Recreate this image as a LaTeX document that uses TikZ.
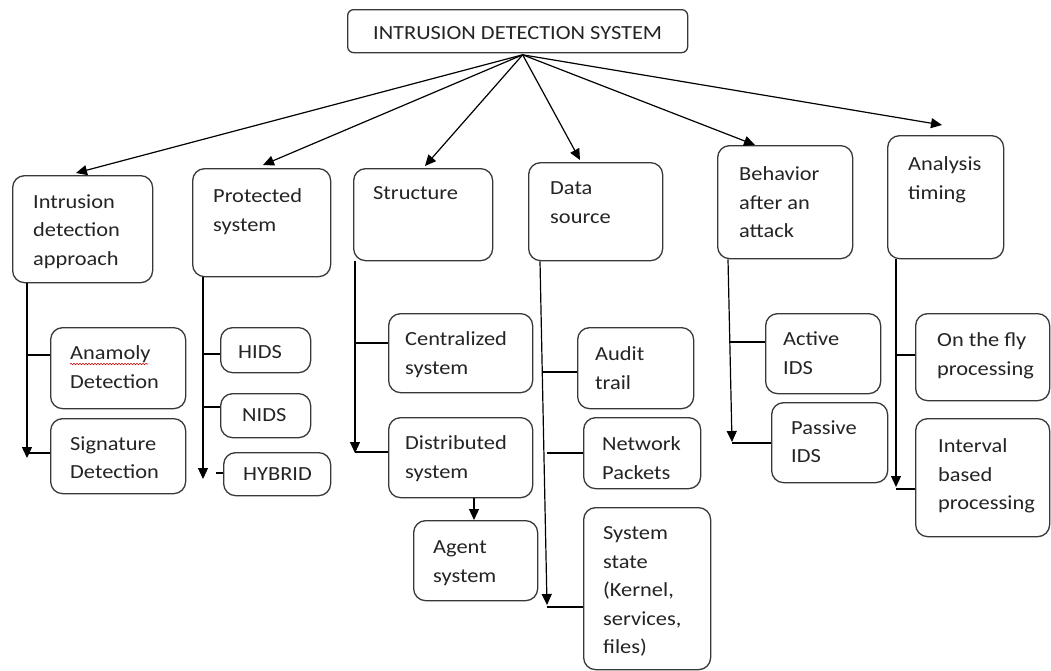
\documentclass[tikz,border=0pt]{standalone}
\usepackage{fontspec}
\setmainfont[FakeStretch=1.12]{Carlito}
\usetikzlibrary{arrows.meta,calc,decorations.pathmorphing}
\definecolor{ink}{gray}{0.14}
\definecolor{edgec}{gray}{0.22}
\begin{document}
\begin{tikzpicture}[x=1pt,y=-1pt,
  box/.style={draw=edgec, line width=1.3pt, rounded corners=12pt, inner sep=0pt, anchor=north west},
  txt/.style={anchor=north west, inner sep=0pt, align=left, text=ink, font=\fontsize{20pt}{28.5pt}\selectfont},
  arr/.style={-{Triangle[length=11pt,width=10pt]}, line width=1.2pt, black},
  ln/.style={line width=1.2pt, black}]
\useasboundingbox (0,0) rectangle (1051,670);
\fill[white] (0,0) rectangle (1051,670);

% root
\node[box, minimum width=340pt, minimum height=43pt, rounded corners=6pt] (ids) at (347,9) {};
\node[txt, anchor=center] (idst) at ($(ids.center)+(0,1.5)$) {INTRUSION DETECTION SYSTEM};

% level 1
\node[box, minimum width=140pt, minimum height=107pt] (ida) at (12,175) {};
\node[txt] (idat) at ($(ida.north west)+(21,19.5)$) {Intrusion\\detection\\approach};
\node[box, minimum width=138pt, minimum height=108pt] (prot) at (192,168) {};
\node[txt] (prott) at ($(prot.north west)+(21,20.5)$) {Protected\\system};
\node[box, minimum width=139pt, minimum height=92pt] (struc) at (353,168) {};
\node[txt] (struct) at ($(struc.north west)+(20,18.5)$) {Structure};
\node[box, minimum width=134pt, minimum height=98pt] (data) at (528,162) {};
\node[txt] (datat) at ($(data.north west)+(22,19.5)$) {Data\\source};
\node[box, minimum width=135pt, minimum height=113pt] (behav) at (717,145) {};
\node[txt] (behavt) at ($(behav.north west)+(22,21.5)$) {Behavior\\after an\\attack};
\node[box, minimum width=116pt, minimum height=123pt] (anal) at (887,135) {};
\node[txt] (analt) at ($(anal.north west)+(21,21.5)$) {Analysis\\timing};

% children
\node[box, minimum width=135pt, minimum height=81pt] (anam) at (50,327) {};
\node[txt] (anamt) at ($(anam.north west)+(20,18.5)$) {Anamoly\\Detection};
\node[box, minimum width=135pt, minimum height=75pt] (sig) at (50,418) {};
\node[txt] (sigt) at ($(sig.north west)+(20,18.5)$) {Signature\\Detection};
\node[box, minimum width=90pt, minimum height=45pt] (hids) at (220,327) {};
\node[txt] (hidst) at ($(hids.north west)+(18,18.5)$) {HIDS};
\node[box, minimum width=90pt, minimum height=44pt] (nids) at (220,393) {};
\node[txt] (nidst) at ($(nids.north west)+(22,15.5)$) {NIDS};
\node[box, minimum width=107pt, minimum height=43pt] (hyb) at (223,452) {};
\node[txt] (hybt) at ($(hyb.north west)+(20,15.5)$) {HYBRID};
\node[box, minimum width=144pt, minimum height=79pt] (cent) at (388,313) {};
\node[txt] (centt) at ($(cent.north west)+(17,18.5)$) {Centralized\\system};
\node[box, minimum width=144pt, minimum height=80pt] (dist) at (388,417) {};
\node[txt] (distt) at ($(dist.north west)+(17,18.5)$) {Distributed\\system};
\node[box, minimum width=124pt, minimum height=80pt] (agent) at (413,520) {};
\node[txt] (agentt) at ($(agent.north west)+(20,20.5)$) {Agent\\system};
\node[box, minimum width=116pt, minimum height=81pt] (audit) at (577,327) {};
\node[txt] (auditt) at ($(audit.north west)+(18,19.5)$) {Audit\\trail};
\node[box, minimum width=117pt, minimum height=71pt] (net) at (583,417) {};
\node[txt] (nett) at ($(net.north west)+(19,19.5)$) {Network\\Packets};
\node[box, minimum width=127pt, minimum height=162pt] (sysst) at (583,507) {};
\node[txt] (sysstt) at ($(sysst.north west)+(20,19.5)$) {System\\state\\(Kernel,\\services,\\files)};
\node[box, minimum width=115pt, minimum height=80pt] (active) at (765,313) {};
\node[txt] (activet) at ($(active.north west)+(18,18.5)$) {Active\\IDS};
\node[box, minimum width=116pt, minimum height=80pt] (passive) at (771,402) {};
\node[txt] (passivet) at ($(passive.north west)+(20,18.5)$) {Passive\\IDS};
\node[box, minimum width=134pt, minimum height=87pt] (fly) at (915,313) {};
\node[txt] (flyt) at ($(fly.north west)+(22,19.5)$) {On the fly\\processing};
\node[box, minimum width=134pt, minimum height=118pt] (interval) at (915,418) {};
\node[txt] (intervalt) at ($(interval.north west)+(23,20.5)$) {Interval\\based\\processing};

% spell-check squiggle
\draw[red!80!black, line width=0.6pt, decorate, decoration={snake, amplitude=0.7pt, segment length=3pt}] (70,364) -- (148,364);

% fan from root
\coordinate (o) at ($(ids.south)+(5,1.5)$);
\coordinate (ta) at (76,173);
\coordinate (tb) at (263,165);
\coordinate (tc) at (425,166);
\coordinate (td) at (580,160);
\coordinate (te) at (755,145);
\coordinate (tf) at (942,125);
\foreach \t in {ta,tb,tc,td,te,tf} \draw[arr] (o) -- (\t);

% column A
\coordinate (a1) at (27,458);
\draw[arr] (a1 |- ida.south) -- (a1);
\coordinate (a2) at (27,355);
\draw[ln] (a2) -- (a2 -| anam.west);
\coordinate (a3) at (27,453);
\draw[ln] (a3) -- (a3 -| sig.west);

% column B
\coordinate (b1) at (203,479);
\draw[arr] (b1 |- prot.south) -- (b1);
\coordinate (b2) at (203,354);
\draw[ln] (b2) -- (b2 -| hids.west);
\coordinate (b3) at (203,407);
\draw[ln] (b3) -- (b3 -| nids.west);
\coordinate (b4) at (216,473);
\draw[ln] (b4) -- (b4 -| hyb.west);

% column C
\coordinate (c1) at (355,453);
\draw[arr] (c1 |- struc.south) -- (c1);
\coordinate (c2) at (355,343);
\draw[ln] (c2) -- (c2 -| cent.west);
\coordinate (c4) at (355,452);
\draw[ln] (c4) -- (c4 -| dist.west);
\coordinate (c3) at (474,520);
\draw[arr] (c3 |- dist.south) -- (c3 |- agent.north);

% column D
\coordinate (dx) at (540,0);
\coordinate (d1) at (547,605);
\draw[arr] (dx |- data.south) -- (d1);
\coordinate (d2) at (542,372);
\draw[ln] (d2) -- (d2 -| audit.west);
\coordinate (d3) at (547,453);
\draw[ln] (d3) -- (d3 -| net.west);
\coordinate (d4) at (547,607);
\draw[ln] (d4) -- (d4 -| sysst.west);

% column E
\coordinate (ex) at (728,0);
\coordinate (e1) at (732,442);
\draw[arr] (ex |- behav.south) -- (e1);
\coordinate (e2) at (730,342);
\draw[ln] (e2) -- (e2 -| active.west);
\coordinate (e3) at (732,443);
\draw[ln] (e3) -- (e3 -| passive.west);

% column F
\coordinate (f1) at (896,487);
\draw[arr] (f1 |- anal.south) -- (f1);
\coordinate (f2) at (896,355);
\draw[ln] (f2) -- (f2 -| fly.west);
\coordinate (f3) at (896,489);
\draw[ln] (f3) -- (f3 -| interval.west);
\end{tikzpicture}
\end{document}
